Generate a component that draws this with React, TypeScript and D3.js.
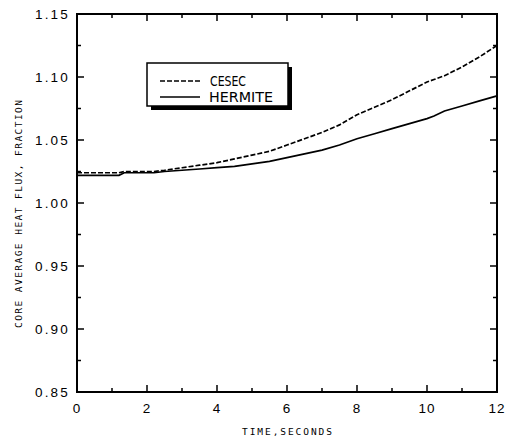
import React from "react";
import * as d3 from "d3";

const times = [0, 1.2, 1.35, 2.2, 2.5, 3.0, 3.5, 4.0, 4.5, 5.0, 5.5, 6.0, 6.5, 7.0, 7.5, 8.0, 8.5, 9.0, 9.5, 10.0, 10.2, 10.5, 11.0, 11.5, 12.0];
const cesec = [1.024, 1.024, 1.025, 1.025, 1.026, 1.028, 1.030, 1.032, 1.035, 1.038, 1.041, 1.046, 1.051, 1.056, 1.062, 1.070, 1.076, 1.082, 1.089, 1.096, 1.098, 1.101, 1.108, 1.116, 1.125];
const hermite = [1.022, 1.022, 1.024, 1.024, 1.025, 1.026, 1.027, 1.028, 1.029, 1.031, 1.033, 1.036, 1.039, 1.042, 1.046, 1.051, 1.055, 1.059, 1.063, 1.067, 1.069, 1.073, 1.077, 1.081, 1.085];
const xTicks = [0, 2, 4, 6, 8, 10, 12];
const xMinor = [1, 3, 5, 7, 9, 11];
const yTicks = [0.85, 0.9, 0.95, 1.0, 1.05, 1.1, 1.15];
const yMinor = [0.875, 0.925, 0.975, 1.025, 1.075, 1.125];
const seriesNames = ["CESEC", "HERMITE"];

const L = 77, R = 497, T = 14, B = 392;

export default function App() {
  const x = d3.scaleLinear().domain([0, 12]).range([L, R]);
  const y = d3.scaleLinear().domain([0.85, 1.15]).range([B, T]);
  const line = d3.line<[number, number]>().x(d => x(d[0])).y(d => y(d[1])).curve(d3.curveLinear);
  const cData = times.map((t, i) => [t, cesec[i]] as [number, number]);
  const hData = times.map((t, i) => [t, hermite[i]] as [number, number]);
  const lab = { fontFamily: "'Liberation Sans', Arial, sans-serif", fontSize: 13.5, fill: "#000" };
  const narrow = "'Liberation Sans Narrow', 'DejaVu Sans Condensed', 'Liberation Sans', sans-serif";

  return (
    <svg width={511} height={444} style={{ position: "absolute", left: 0, top: 0, background: "#fff" }}>
      <rect x={0} y={0} width={511} height={444} fill="#fff" />
      {xTicks.map(t => (
        <g key={"xt" + t}>
          <line x1={x(t)} x2={x(t)} y1={B} y2={B - 7} stroke="#000" strokeWidth={1.5} />
          <line x1={x(t)} x2={x(t)} y1={T} y2={T + 7} stroke="#000" strokeWidth={1.5} />
          <text x={x(t)} y={413} textAnchor="middle" {...lab} letterSpacing={1}>{t}</text>
        </g>
      ))}
      {xMinor.map(t => (
        <g key={"xm" + t}>
          <line x1={x(t)} x2={x(t)} y1={B} y2={B - 4} stroke="#000" strokeWidth={1.5} />
          <line x1={x(t)} x2={x(t)} y1={T} y2={T + 4} stroke="#000" strokeWidth={1.5} />
        </g>
      ))}
      {yTicks.map(v => (
        <g key={"yt" + v}>
          <line x1={L} x2={L + 7} y1={y(v)} y2={y(v)} stroke="#000" strokeWidth={1.5} />
          <line x1={R} x2={R - 7} y1={y(v)} y2={y(v)} stroke="#000" strokeWidth={1.5} />
          <text x={70} y={y(v) + 5} textAnchor="end" {...lab} letterSpacing={2.2}>{v.toFixed(2)}</text>
        </g>
      ))}
      {yMinor.map(v => (
        <g key={"ym" + v}>
          <line x1={L} x2={L + 4} y1={y(v)} y2={y(v)} stroke="#000" strokeWidth={1.5} />
          <line x1={R} x2={R - 4} y1={y(v)} y2={y(v)} stroke="#000" strokeWidth={1.5} />
        </g>
      ))}
      <rect x={L} y={T} width={R - L} height={B - T} fill="none" stroke="#000" strokeWidth={2} />
      <path d={line(hData) || ""} fill="none" stroke="#000" strokeWidth={1.7} />
      <path d={line(cData) || ""} fill="none" stroke="#000" strokeWidth={1.7} strokeDasharray="5,2" />
      <rect x={151} y={67} width={141} height={43} fill="#000" />
      <rect x={147} y={63} width={141} height={43} fill="#fff" stroke="#000" strokeWidth={1.5} />
      <line x1={160} x2={200} y1={81} y2={81} stroke="#000" strokeWidth={1.5} strokeDasharray="5,2" />
      <line x1={160} x2={200} y1={97} y2={97} stroke="#000" strokeWidth={1.5} />
      <text x={210} y={86} fontFamily={narrow} fontSize={13.5} fill="#000" textLength={36} lengthAdjust="spacingAndGlyphs">{seriesNames[0]}</text>
      <text x={209} y={102} fontFamily={narrow} fontSize={13.5} fill="#000" textLength={64} lengthAdjust="spacingAndGlyphs">{seriesNames[1]}</text>
      <text x={287} y={435} textAnchor="middle" fontFamily="'DejaVu Sans Mono', monospace" fontSize={9.5}
        textLength={90} lengthAdjust="spacing" fill="#000">TIME,SECONDS</text>
      <text transform={`translate(22,214) rotate(-90)`} textAnchor="middle" fontFamily="'DejaVu Sans Mono', monospace" fontSize={9.5}
        textLength={228} lengthAdjust="spacing" fill="#000">CORE AVERAGE HEAT FLUX, FRACTION</text>
    </svg>
  );
}
